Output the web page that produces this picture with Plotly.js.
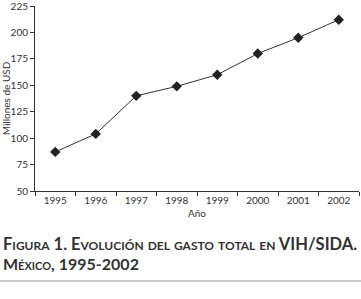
<!DOCTYPE html>
<html><head><meta charset="utf-8">
<script src="https://cdn.plot.ly/plotly-3.0.1.min.js"></script>
<style>html,body{margin:0;padding:0;background:#fff}</style>
</head><body>
<div id="chart" style="width:361px;height:299px"></div>
<script>
const years = ['1995','1996','1997','1998','1999','2000','2001','2002'];
const gasto = [87, 104, 140, 149, 160, 180, 195, 212];
const yTicks = [50, 75, 100, 125, 150, 175, 200, 225];

const W = 361, H = 299;
const mL = 35, mR = 2, mT = 6, mB = 108;
const pw = W - mL - mR, ph = H - mT - mB;
const px = x => (x - mL) / pw;
const py = y => (H - mB - y) / ph;

const FONT = 'Lato, "Open Sans", sans-serif';

const trace = {
  x: years, y: gasto, type: 'scatter', mode: 'lines+markers',
  line: {color: '#333', width: 1},
  marker: {symbol: 'diamond', size: 8, color: '#222'},
  hoverinfo: 'skip', cliponaxis: false
};

const layout = {
  width: W, height: H,
  margin: {l: mL, r: mR, t: mT, b: mB},
  paper_bgcolor: '#fff', plot_bgcolor: '#fff',
  showlegend: false,
  font: {family: FONT, size: 10, color: '#333'},
  xaxis: {
    type: 'category', range: [-0.5, 7.5],
    showline: true, linecolor: '#333', linewidth: 1,
    ticks: 'outside', tickson: 'boundaries', ticklen: 4, tickcolor: '#333',
    showgrid: false, zeroline: false,
    tickfont: {family: FONT, size: 10, color: '#333'},
    title: {text: 'Año', font: {family: FONT, size: 10, color: '#333'}, standoff: 4}
  },
  yaxis: {
    range: [50, 225], tickvals: yTicks,
    ticklabeloverflow: 'allow',
    showline: true, linecolor: '#333', linewidth: 1,
    ticks: 'outside', ticklen: 4, tickcolor: '#333',
    showgrid: false, zeroline: false,
    tickfont: {family: FONT, size: 10, color: '#333'},
    title: {text: 'Millones de USD', font: {family: FONT, size: 10, color: '#333'}, standoff: 3}
  },
  annotations: [
    {xref: 'paper', yref: 'paper', x: px(1), y: py(244), xanchor: 'left', yanchor: 'middle',
     text: 'Figura 1. Evolución del gasto total en VIH/SIDA.', showarrow: false,
     font: {family: FONT, size: 16.5, color: '#333', weight: 700, variant: 'small-caps'}},
    {xref: 'paper', yref: 'paper', x: px(1), y: py(263), xanchor: 'left', yanchor: 'middle',
     text: 'México, 1995-2002', showarrow: false,
     font: {family: FONT, size: 16, color: '#333', weight: 700, variant: 'small-caps'}}
  ],
  shapes: [
    {type: 'line', xref: 'paper', yref: 'paper', x0: px(0), x1: px(W), y0: py(281), y1: py(281),
     line: {color: '#c8c8c8', width: 2}}
  ]
};

Plotly.newPlot('chart', [trace], layout, {staticPlot: true, displayModeBar: false});
</script>
</body></html>
